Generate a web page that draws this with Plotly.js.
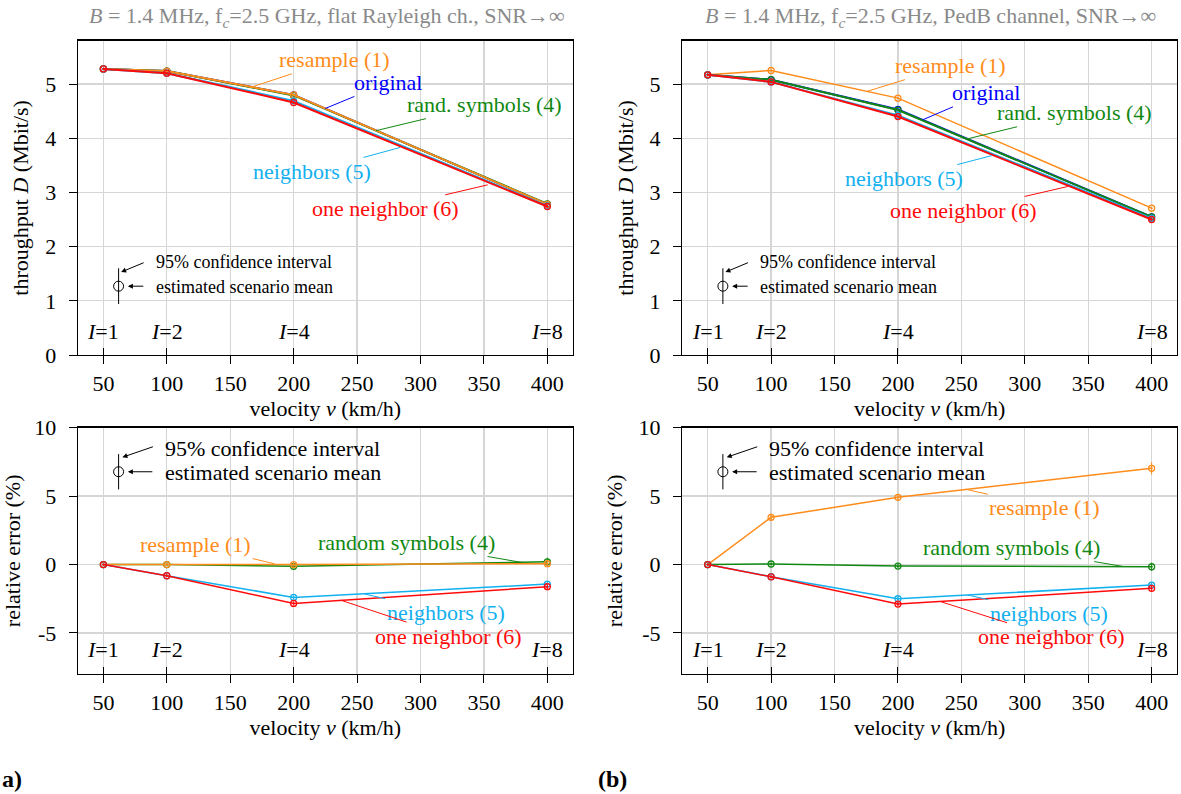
<!DOCTYPE html>
<html>
<head>
<meta charset="utf-8">
<script src="https://cdn.plot.ly/plotly-3.0.1.min.js"></script>
<style>html,body{margin:0;padding:0;background:#fff;}</style>
</head>
<body>
<div id="chart" style="width:1181px;height:794px;"></div>
<script>
// ---------------- data ----------------
const velocity = [50, 100, 200, 400];
const xTicks = [50, 100, 150, 200, 250, 300, 350, 400];
const iFactors = [1, 2, 4, 8];

// (a) flat Rayleigh channel – throughput D (Mbit/s)
const rayOriginal    = [5.28, 5.24, 4.80, 2.78];
const rayResample    = [5.28, 5.24, 4.80, 2.78];
const rayRandSymbols = [5.28, 5.24, 4.79, 2.79];
const rayNeighbors   = [5.28, 5.20, 4.69, 2.75];
const rayOneNeighbor = [5.28, 5.20, 4.66, 2.74];
// (a) relative error (%)
const rayErrResample    = [0, 0.0, 0.0, 0.06];
const rayErrRandSymbols = [0, 0.0, -0.13, 0.2];
const rayErrNeighbors   = [0, -0.82, -2.4, -1.43];
const rayErrOneNeighbor = [0, -0.82, -2.84, -1.62];
const rayCiResample     = [0, 0.1, 0.15, 0.2];
const rayCiRandSymbols  = [0, 0.1, 0.15, 0.3];
const rayCiNeighbors    = [0, 0.1, 0.15, 0.2];
const rayCiOneNeighbor  = [0, 0.1, 0.15, 0.2];

// (b) PedB channel – throughput D (Mbit/s)
const pedOriginal    = [5.17, 5.08, 4.53, 2.55];
const pedResample    = [5.17, 5.25, 4.74, 2.71];
const pedRandSymbols = [5.17, 5.08, 4.52, 2.55];
const pedNeighbors   = [5.17, 5.04, 4.42, 2.52];
const pedOneNeighbor = [5.17, 5.04, 4.40, 2.50];
// (b) relative error (%)
const pedErrResample    = [0, 3.45, 4.91, 7.03];
const pedErrRandSymbols = [0, 0.04, -0.11, -0.16];
const pedErrNeighbors   = [0, -0.89, -2.5, -1.5];
const pedErrOneNeighbor = [0, -0.9, -2.89, -1.74];
const pedCiResample     = [0, 0.25, 0.25, 0.45];
const pedCiRandSymbols  = [0, 0.1, 0.15, 0.3];
const pedCiNeighbors    = [0, 0.1, 0.15, 0.2];
const pedCiOneNeighbor  = [0, 0.1, 0.15, 0.2];

// confidence-interval legend glyph
const ciGlyphX = [62];
const ciGlyphYTop = [1.27];
const ciGlyphHalfTop = [0.33];
const ciGlyphYErr = [6.78];
const ciGlyphHalfErr = [1.29];

const yTicksTop = [0, 1, 2, 3, 4, 5];
const yTicksErr = [-5, 0, 5, 10];
const yTickTextErr = ['-5', '0', '5', '10'];

// ---------------- styling ----------------
const FONT = 'Liberation Serif';
const C = {
  original: '#0000ff',
  resample: '#ff8c1a',
  rand: '#118811',
  neigh: '#12b0ef',
  one: '#ff0a0a'
};

function series(x, y, color, xa, ya, lw, ci) {
  const t = {
    type: 'scatter', mode: 'lines+markers', x: x, y: y,
    xaxis: xa, yaxis: ya, showlegend: false, hoverinfo: 'skip',
    line: {color: color, width: lw},
    marker: {symbol: 'circle-open-dot', size: 6, color: color, line: {color: color, width: 1.3}}
  };
  if (ci) t.error_y = {type: 'data', array: ci, visible: true, color: color, thickness: 1, width: 0};
  return t;
}
function glyph(xa, ya, yv, half) {
  return {
    type: 'scatter', mode: 'markers', x: ciGlyphX, y: yv, xaxis: xa, yaxis: ya,
    showlegend: false, hoverinfo: 'skip',
    marker: {symbol: 'circle-open', size: 10, color: '#000', line: {color: '#000', width: 1}},
    error_y: {type: 'data', array: half, visible: true, color: '#000', thickness: 1, width: 0}
  };
}

const traces = [
  // top-left
  series(velocity, rayOriginal, C.original, 'x', 'y', 2),
  series(velocity, rayRandSymbols, C.rand, 'x', 'y', 2),
  series(velocity, rayResample, C.resample, 'x', 'y', 2),
  series(velocity, rayNeighbors, C.neigh, 'x', 'y', 2),
  series(velocity, rayOneNeighbor, C.one, 'x', 'y', 2),
  glyph('x', 'y', ciGlyphYTop, ciGlyphHalfTop),
  // bottom-left
  series(velocity, rayErrRandSymbols, C.rand, 'x2', 'y2', 1.5, rayCiRandSymbols),
  series(velocity, rayErrResample, C.resample, 'x2', 'y2', 1.5, rayCiResample),
  series(velocity, rayErrNeighbors, C.neigh, 'x2', 'y2', 1.5, rayCiNeighbors),
  series(velocity, rayErrOneNeighbor, C.one, 'x2', 'y2', 1.5, rayCiOneNeighbor),
  glyph('x2', 'y2', ciGlyphYErr, ciGlyphHalfErr),
  // top-right
  series(velocity, pedOriginal, C.original, 'x3', 'y3', 2),
  series(velocity, pedResample, C.resample, 'x3', 'y3', 1.5),
  series(velocity, pedRandSymbols, C.rand, 'x3', 'y3', 2),
  series(velocity, pedNeighbors, C.neigh, 'x3', 'y3', 2),
  series(velocity, pedOneNeighbor, C.one, 'x3', 'y3', 2),
  glyph('x3', 'y3', ciGlyphYTop, ciGlyphHalfTop),
  // bottom-right
  series(velocity, pedErrResample, C.resample, 'x4', 'y4', 1.5, pedCiResample),
  series(velocity, pedErrRandSymbols, C.rand, 'x4', 'y4', 1.5, pedCiRandSymbols),
  series(velocity, pedErrNeighbors, C.neigh, 'x4', 'y4', 1.5, pedCiNeighbors),
  series(velocity, pedErrOneNeighbor, C.one, 'x4', 'y4', 1.5, pedCiOneNeighbor),
  glyph('x4', 'y4', ciGlyphYErr, ciGlyphHalfErr),
  // empty traces on the overlay axes carrying the inside I-ticks
  {type: 'scatter', x: [], y: [], xaxis: 'x5', yaxis: 'y', showlegend: false},
  {type: 'scatter', x: [], y: [], xaxis: 'x6', yaxis: 'y2', showlegend: false},
  {type: 'scatter', x: [], y: [], xaxis: 'x7', yaxis: 'y3', showlegend: false},
  {type: 'scatter', x: [], y: [], xaxis: 'x8', yaxis: 'y4', showlegend: false}
];

const XL = [0.06605, 0.48493], XR = [0.57773, 0.99661];
const YT = [0.55290, 0.94874], YB = [0.15113, 0.46134];
const tickFont = {family: FONT, size: 22, color: '#000'};
const titleFont = {family: FONT, size: 22, color: '#000'};

function xAxis(dom, anchor) {
  return {
    domain: dom, anchor: anchor, range: [30, 420], tickmode: 'array', tickvals: xTicks,
    ticks: 'outside', ticklen: 8, tickcolor: '#000', tickwidth: 1,
    showgrid: true, gridcolor: '#d6d6d6', gridwidth: 1.3, zeroline: false,
    showline: true, linecolor: '#000', linewidth: 1.3, mirror: true,
    tickfont: tickFont, ticklabelstandoff: 0,
    title: {text: 'velocity <i>v</i> (km/h)', font: titleFont, standoff: 3}
  };
}
function yAxis(dom, anchor, range, tv, tt, title) {
  const a = {
    domain: dom, anchor: anchor, range: range, tickmode: 'array', tickvals: tv,
    ticks: 'outside', ticklen: 8, tickcolor: '#000', tickwidth: 1,
    showgrid: true, gridcolor: '#d6d6d6', gridwidth: 1.3, zeroline: false,
    showline: true, linecolor: '#000', linewidth: 1.3, mirror: true,
    tickfont: tickFont, ticklabelstandoff: 8,
    title: {text: title, font: titleFont, standoff: 10}
  };
  if (tt) a.ticktext = tt;
  return a;
}
function overlayX(base, anchor) {
  return {
    overlaying: base, anchor: anchor, side: 'bottom', range: [30, 420],
    tickmode: 'array', tickvals: velocity, ticks: 'inside', ticklen: 7,
    tickcolor: '#000', tickwidth: 1, showticklabels: false, showgrid: false,
    zeroline: false, showline: false
  };
}

const annotations = [];
function ann(xref, yref, x, y, text, color, ax, ay, size) {
  annotations.push({
    xref: xref, yref: yref, x: x, y: y, text: text, showarrow: true,
    arrowhead: 0, arrowwidth: 1, arrowcolor: color, standoff: 0,
    ax: ax, ay: ay, font: {family: FONT, size: size || 22, color: color}
  });
}
// top-left labels
ann('x', 'y', 165, 4.93, 'resample (1)', C.resample, 85, -28);
ann('x', 'y', 225, 4.55, 'original', C.original, 63, -26);
ann('x', 'y', 265, 4.14, 'rand. symbols (4)', C.rand, 108, -26);
ann('x', 'y', 284, 3.83, 'neighbors (5)', C.neigh, -88, 24);
ann('x', 'y', 353, 3.14, 'one neighbor (6)', C.one, -102, 24);
// bottom-left labels
ann('x2', 'y2', 185, 0.05, 'resample (1)', C.resample, -79, -19);
ann('x2', 'y2', 380, 0.15, 'random symbols (4)', C.rand, -115, -20);
ann('x2', 'y2', 256, -2.16, 'neighbors (5)', C.neigh, 81, 18);
ann('x2', 'y2', 237, -2.6, 'one neighbor (6)', C.one, 108, 36);
// top-right labels
ann('x3', 'y3', 175, 4.86, 'resample (1)', C.resample, 84, -26);
ann('x3', 'y3', 219.5, 4.34, 'original', C.original, 63, -27);
ann('x3', 'y3', 255, 3.99, 'rand. symbols (4)', C.rand, 107, -26);
ann('x3', 'y3', 274, 3.68, 'neighbors (5)', C.neigh, -88, 23);
ann('x3', 'y3', 334, 3.11, 'one neighbor (6)', C.one, -104, 24);
// bottom-right labels
ann('x4', 'y4', 253.5, 5.5, 'resample (1)', C.resample, 79, 18);
ann('x4', 'y4', 378, -0.15, 'random symbols (4)', C.rand, -112, -19);
ann('x4', 'y4', 255, -2.23, 'neighbors (5)', C.neigh, 81, 18);
ann('x4', 'y4', 234, -2.72, 'one neighbor (6)', C.one, 110, 35);

// I = ... labels
const iLabelY = {y: 0.43, y2: -6.2, y3: 0.43, y4: -6.2};
[['x', 'y'], ['x2', 'y2'], ['x3', 'y3'], ['x4', 'y4']].forEach(function (p) {
  velocity.forEach(function (v, k) {
    annotations.push({xref: p[0], yref: p[1], x: v, y: iLabelY[p[1]],
      text: '<i>I</i>=' + iFactors[k], showarrow: false,
      font: {family: FONT, size: 22, color: '#000'}});
  });
});

// confidence-interval legend texts + arrows
function ciLegend(xa, ya, isTop) {
  const size = isTop ? 18 : 22;
  const tx = isTop ? 90 : 97;
  const y1 = isTop ? 1.71 : 8.49, y2 = isTop ? 1.25 : 6.74;
  annotations.push({xref: xa, yref: ya, x: tx, y: y1, xanchor: 'left', text: '95% confidence interval',
    showarrow: false, font: {family: FONT, size: size, color: '#000'}});
  annotations.push({xref: xa, yref: ya, x: tx, y: y2, xanchor: 'left', text: 'estimated scenario mean',
    showarrow: false, font: {family: FONT, size: size, color: '#000'}});
  annotations.push({xref: xa, yref: ya, x: isTop ? 64 : 65, y: isTop ? 1.53 : 7.84, text: '',
    showarrow: true, arrowhead: 2, arrowsize: 1, arrowwidth: 1, arrowcolor: '#000',
    ax: isTop ? 24 : 32, ay: isTop ? -10 : -11});
  annotations.push({xref: xa, yref: ya, x: 69.3, y: isTop ? ciGlyphYTop[0] : ciGlyphYErr[0], text: '',
    showarrow: true, arrowhead: 2, arrowsize: 1, arrowwidth: 1, arrowcolor: '#000',
    ax: isTop ? 17 : 26, ay: 0});
}
ciLegend('x', 'y', true);
ciLegend('x2', 'y2', false);
ciLegend('x3', 'y3', true);
ciLegend('x4', 'y4', false);

// panel titles
annotations.push({xref: 'paper', yref: 'paper', x: 327 / 1181, y: 1 - 17 / 794, xanchor: 'center', yanchor: 'middle',
  text: '<i>B</i> = 1.4 MHz, f<sub><i>c</i></sub>=2.5 GHz, flat Rayleigh ch., SNR→∞',
  showarrow: false, font: {family: FONT, size: 22, color: '#8a8a8a'}});
annotations.push({xref: 'paper', yref: 'paper', x: 930 / 1181, y: 1 - 17 / 794, xanchor: 'center', yanchor: 'middle',
  text: '<i>B</i> = 1.4 MHz, f<sub><i>c</i></sub>=2.5 GHz, PedB channel, SNR→∞',
  showarrow: false, font: {family: FONT, size: 22, color: '#8a8a8a'}});
// panel letters
annotations.push({xref: 'paper', yref: 'paper', x: 0, y: 1 - 779 / 794, xanchor: 'left', yanchor: 'middle',
  text: '<b>a)</b>', showarrow: false, font: {family: FONT, size: 24, color: '#000'}});
annotations.push({xref: 'paper', yref: 'paper', x: 596 / 1181, y: 1 - 779 / 794, xanchor: 'left', yanchor: 'middle',
  text: '<b>(b)</b>', showarrow: false, font: {family: FONT, size: 24, color: '#000'}});

const layout = {
  width: 1181, height: 794,
  margin: {l: 0, r: 0, t: 0, b: 0},
  paper_bgcolor: '#fff', plot_bgcolor: '#fff',
  font: {family: FONT, size: 22, color: '#000'},
  showlegend: false,
  xaxis: xAxis(XL, 'y'),
  yaxis: yAxis(YT, 'x', [0, 5.8], yTicksTop, null, 'throughput <i>D</i> (Mbit/s)'),
  xaxis2: xAxis(XL, 'y2'),
  yaxis2: yAxis(YB, 'x2', [-8, 10], yTicksErr, yTickTextErr, 'relative error (%)'),
  xaxis3: xAxis(XR, 'y3'),
  yaxis3: yAxis(YT, 'x3', [0, 5.8], yTicksTop, null, 'throughput <i>D</i> (Mbit/s)'),
  xaxis4: xAxis(XR, 'y4'),
  yaxis4: yAxis(YB, 'x4', [-8, 10], yTicksErr, yTickTextErr, 'relative error (%)'),
  xaxis5: overlayX('x', 'y'),
  xaxis6: overlayX('x2', 'y2'),
  xaxis7: overlayX('x3', 'y3'),
  xaxis8: overlayX('x4', 'y4'),
  annotations: annotations
};

Plotly.newPlot('chart', traces, layout, {staticPlot: true, displayModeBar: false});
</script>
</body>
</html>
